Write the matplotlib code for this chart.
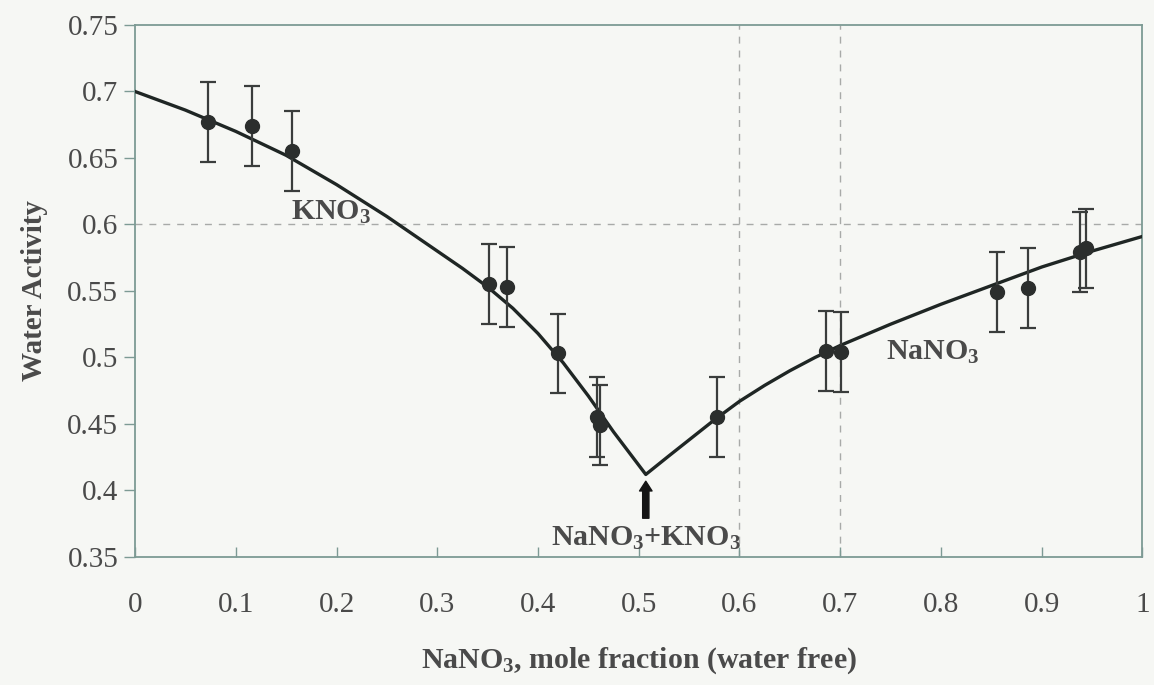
import matplotlib
matplotlib.use("Agg")
import matplotlib.pyplot as plt

# measured points (NaNO3 mole fraction, water activity, error)
x_data = [0.072, 0.116, 0.156, 0.351, 0.369, 0.420, 0.459, 0.462, 0.578,
          0.686, 0.701, 0.856, 0.886, 0.938, 0.944]
y_data = [0.677, 0.674, 0.655, 0.555, 0.553, 0.503, 0.455, 0.449, 0.455,
          0.505, 0.504, 0.549, 0.552, 0.579, 0.582]
y_err = [0.03, 0.03, 0.03, 0.03, 0.03, 0.03, 0.03, 0.03, 0.03,
         0.03, 0.03, 0.03, 0.03, 0.03, 0.03]

# model curve
curve_x = [0.0, 0.05, 0.10, 0.15, 0.20, 0.25, 0.275, 0.30, 0.325, 0.35, 0.375,
           0.40, 0.425, 0.45, 0.475, 0.507,
           0.53, 0.55, 0.575, 0.60, 0.625, 0.65, 0.675, 0.70, 0.75, 0.80,
           0.85, 0.90, 0.95, 1.0]
curve_y = [0.700, 0.686, 0.670, 0.652, 0.630, 0.606, 0.593, 0.580, 0.567, 0.553, 0.537,
           0.518, 0.496, 0.471, 0.444, 0.412,
           0.426, 0.438, 0.453, 0.467, 0.479, 0.490, 0.500, 0.509, 0.525, 0.540,
           0.554, 0.568, 0.580, 0.591]

x_ticks = [0, 0.1, 0.2, 0.3, 0.4, 0.5, 0.6, 0.7, 0.8, 0.9, 1]
x_labels = ["0", "0.1", "0.2", "0.3", "0.4", "0.5", "0.6", "0.7", "0.8", "0.9", "1"]
y_ticks = [0.35, 0.4, 0.45, 0.5, 0.55, 0.6, 0.65, 0.7, 0.75]
y_labels = ["0.35", "0.4", "0.45", "0.5", "0.55", "0.6", "0.65", "0.7", "0.75"]

plt.rcParams['font.family'] = ['Liberation Serif', 'DejaVu Serif']
plt.rcParams['mathtext.fontset'] = 'custom'
plt.rcParams['mathtext.rm'] = 'Liberation Serif:bold'
plt.rcParams['mathtext.it'] = 'Liberation Serif:bold'
plt.rcParams['mathtext.bf'] = 'Liberation Serif:bold'

bg = '#f6f7f4'
spine_col = '#7d9a94'
text_col = '#4a4a4a'
dark = '#1f2624'

fig = plt.figure(figsize=(11.54, 6.85), dpi=100, facecolor=bg)
ax = fig.add_axes([0.117, 0.187, 0.873, 0.7765], facecolor=bg)

# only a few dashed grid lines survive in the original
ax.axhline(0.6, color='#a8aaa8', lw=1, ls=(0, (5, 5)), zorder=1)
ax.axvline(0.6, color='#a8aaa8', lw=1, ls=(0, (5, 5)), zorder=1)
ax.axvline(0.7, color='#a8aaa8', lw=1, ls=(0, (5, 5)), zorder=1)

ax.plot(curve_x, curve_y, color=dark, lw=2.4, zorder=3, solid_joinstyle='round')
ax.errorbar(x_data, y_data, yerr=y_err, fmt='o', color='#2b2e2d', ecolor='#3a3d3c',
            elinewidth=1.6, capsize=6, capthick=1.6, markersize=10, zorder=4)

# eutectic arrow
ax.annotate('', xy=(0.507, 0.409), xytext=(0.507, 0.377),
            arrowprops=dict(arrowstyle='simple,head_width=0.9,head_length=0.7,tail_width=0.45',
                            color='#151515'), zorder=5)

ax.text(0.195, 0.609, 'KNO$_3$', fontsize=21.5, fontweight='bold', color=text_col,
        ha='center', va='center')
ax.text(0.792, 0.504, 'NaNO$_3$', fontsize=21.5, fontweight='bold', color=text_col,
        ha='center', va='center')
ax.text(0.507, 0.364, 'NaNO$_3$+KNO$_3$', fontsize=21.5, fontweight='bold', color=text_col,
        ha='center', va='center')

ax.set_xlim(0, 1)
ax.set_ylim(0.35, 0.75)
ax.set_xticks(x_ticks)
ax.set_xticklabels(x_labels)
ax.set_yticks(y_ticks)
ax.set_yticklabels(y_labels)
ax.tick_params(axis='x', direction='in', length=7, width=1, color=spine_col,
               labelsize=21, labelcolor=text_col, pad=25)
ax.tick_params(axis='y', direction='out', length=8, width=1, color=spine_col,
               labelsize=21, labelcolor=text_col, pad=4)
for s in ax.spines.values():
    s.set_color(spine_col)
    s.set_linewidth(1.3)

ax.set_xlabel('NaNO$_3$, mole fraction (water free)', fontsize=21.5, fontweight='bold',
              color=text_col, labelpad=20)
ax.set_ylabel('Water Activity', fontsize=21, fontweight='bold', color=text_col, labelpad=14)

fig.savefig('out.png', dpi=100, facecolor=bg)
